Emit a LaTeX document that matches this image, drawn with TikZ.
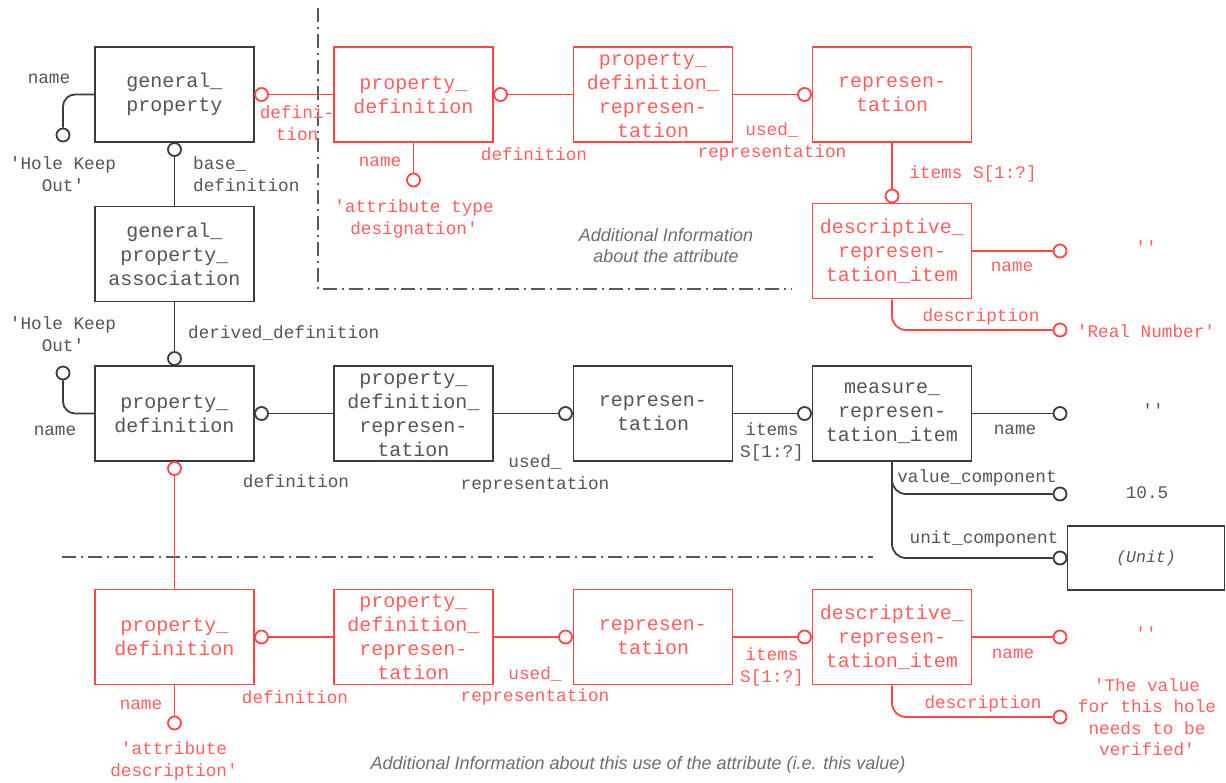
\documentclass[tikz,border=0pt]{standalone}
\usepackage{fontspec}
\newfontfamily\diagmono{Liberation Mono}
\newfontfamily\diagsans{Liberation Sans}

\definecolor{linegray}{RGB}{60,60,60}
\definecolor{textgray}{RGB}{85,85,85}
\definecolor{diagred}{RGB}{255,70,70}
\definecolor{redtext}{RGB}{255,95,95}
\definecolor{dashgray}{RGB}{90,90,90}
\definecolor{notegray}{RGB}{110,110,110}

\newcommand{\boxfont}{\diagmono\fontsize{20}{24}\selectfont}
\newcommand{\lblfont}{\diagmono\fontsize{17.7}{21.5}\selectfont}
\newcommand{\notefont}{\diagsans\itshape\fontsize{18}{21}\selectfont}
\newcommand{\sq}{\textquotesingle}

\tikzset{
  entity/.style={draw=linegray, line width=1.8pt, minimum width=159pt, minimum height=95pt,
    inner sep=0pt, align=center, text=textgray, font=\boxfont},
  entityred/.style={entity, draw=diagred, text=redtext},
  unitbox/.style={draw=linegray, line width=1.8pt, minimum width=157pt, minimum height=64pt,
    inner sep=0pt, text=textgray, font=\diagmono\itshape\fontsize{16.5}{20}\selectfont},
  ball/.style={circle, draw=linegray, fill=white, line width=1.8pt, minimum size=13pt, inner sep=0pt},
  ballred/.style={ball, draw=diagred},
  link/.style={draw=linegray, line width=1.8pt},
  linkred/.style={link, draw=diagred},
  lbl/.style={text=textgray, font=\lblfont, align=center, inner sep=0pt},
  lblred/.style={lbl, text=redtext},
  divider/.style={draw=dashgray, line width=1.3pt, dash pattern=on 14pt off 5pt on 2pt off 5pt},
  note/.style={text=notegray, font=\notefont, align=center, inner sep=0pt}
}

\begin{document}
\begin{tikzpicture}[x=1pt,y=-1pt]
\useasboundingbox (0,0) rectangle (1226,782);

% Divider lines
\draw[divider] (318,8) -- (318,289) -- (792,289);
\draw[divider] (62,557) -- (873,557);

% Notes
\node[note] (noteT) at (666,246) {Additional Information\\about the attribute};
\node[note] (noteB) at (638,765) {Additional Information about this use of the attribute (i.e. this value)};

% Top row
\node[entity] (gp) at (174.5,94.5) {general\_\\property};
\node[entity] (gpa) at (174.5,254) {general\_\\property\_\\association};
\node[entityred] (pdT) at (413.5,94.5) {property\_\\definition};
\node[entityred] (pdrT) at (653,94.5) {property\_\\definition\_\\represen-\\tation};
\node[entityred] (repT) at (892,94.5) {represen-\\tation};
\node[entityred] (driT) at (892,251) {descriptive\_\\represen-\\tation\_item};

% Middle row
\node[entity] (pdM) at (174.5,413.5) {property\_\\definition};
\node[entity] (pdrM) at (413.5,413.5) {property\_\\definition\_\\represen-\\tation};
\node[entity] (repM) at (653,413.5) {represen-\\tation};
\node[entity] (mri) at (892,413.5) {measure\_\\represen-\\tation\_item};
\node[unitbox] (unit) at (1146,558) {(Unit)};

% Bottom row
\node[entityred] (pdB) at (174.5,637) {property\_\\definition};
\node[entityred] (pdrB) at (413.5,637) {property\_\\definition\_\\represen-\\tation};
\node[entityred] (repB) at (653,637) {represen-\\tation};
\node[entityred] (driB) at (892,637) {descriptive\_\\represen-\\tation\_item};

% Circles
\node[ballred] (cgpR) at (261.5,94.5) {};
\node[ball] (cgpN) at (63,135) {};
\node[ball] (cgpB) at (174.5,149.5) {};
\node[ballred] (cpdTN) at (413.5,180) {};
\node[ballred] (cpdT) at (500.5,94.5) {};
\node[ballred] (crepT) at (804.5,94.5) {};
\node[ballred] (cdriT) at (892,196) {};
\node[ballred] (cdriTN) at (1060,251) {};
\node[ballred] (cdriTD) at (1060,330) {};
\node[ball] (cpdM) at (174.5,358.5) {};
\node[ball] (cpdMN) at (63,373) {};
\node[ball] (cpdMR) at (261.5,413.5) {};
\node[ball] (crepM) at (565.5,413.5) {};
\node[ball] (cmri) at (804.5,413.5) {};
\node[ball] (cmriN) at (1060,413.5) {};
\node[ball] (cval) at (1060,494) {};
\node[ball] (cunit) at (1060,558) {};
\node[ballred] (cpdMB) at (174.5,468.5) {};
\node[ballred] (cpdBR) at (261.5,637) {};
\node[ballred] (cpdBN) at (174.5,723) {};
\node[ballred] (crepB) at (565.5,637) {};
\node[ballred] (cdriB) at (804.5,637) {};
\node[ballred] (cdriBN) at (1060,637) {};
\node[ballred] (cdriBD) at (1060,717) {};

% Top connectors
\draw[linkred] (cgpR) -- (pdT.west);
\draw[link, rounded corners=12pt] (gp.west) -| (cgpN.north);
\draw[link] (cgpB) -- (gpa.north);
\draw[linkred] (pdT.south) -- (cpdTN);
\draw[linkred] (cpdT) -- (pdrT.west);
\draw[linkred] (pdrT.east) -- (crepT);
\draw[linkred] (repT.south) -- (cdriT);
\draw[linkred] (driT.east) -- (cdriTN);
\draw[linkred, rounded corners=14pt] (driT.south) |- (cdriTD.west);

% Middle connectors
\draw[link] (gpa.south) -- (cpdM);
\draw[link, rounded corners=12pt] (pdM.west) -| (cpdMN.south);
\draw[link] (cpdMR) -- (pdrM.west);
\draw[link] (pdrM.east) -- (crepM);
\draw[link] (repM.east) -- (cmri);
\draw[link] (mri.east) -- (cmriN);
\draw[link, rounded corners=14pt] (mri.south) |- (cval.west);
\draw[link, rounded corners=14pt] (mri.south) |- (cunit.west);
\draw[linkred] (cpdMB) -- (pdB.north);

% Bottom connectors
\draw[linkred] (cpdBR) -- (pdrB.west);
\draw[linkred] (pdB.south) -- (cpdBN);
\draw[linkred] (pdrB.east) -- (crepB);
\draw[linkred] (repB.east) -- (cdriB);
\draw[linkred] (driB.east) -- (cdriBN);
\draw[linkred, rounded corners=14pt] (driB.south) |- (cdriBD.west);

% Top labels
\node[lbl] (lgpN) at (49,79) {name};
\node[lbl] (lgpV) at (63,174) {\sq Hole Keep\\Out\sq};
\node[lbl, anchor=west, align=left] (lgpB) at (193,174) {base\_\\definition};
\node[lblred] (lgpR) at (297,123) {defini-\\tion};
\node[lblred] (lpdTN) at (380,162) {name};
\node[lblred] (lpdTV) at (414,219) {\sq attribute type\\designation\sq};
\node[lblred] (lpdT) at (534,154) {definition};
\node[lblred] (lpdrT) at (772,142) {used\_\\representation};
\node[lblred] (lrepT) at (973,174) {items S[1:?]};
\node[lblred] (ldriTN) at (1012,267) {name};
\node[lblred] (ldriTV) at (1146,247) {\sq\sq};
\node[lblred] (ldriTD) at (981,317) {description};
\node[lblred] (ldriTW) at (1146,331) {\sq Real Number\sq};

% Middle labels
\node[lbl, anchor=west] (lgpa) at (188,333) {derived\_definition};
\node[lbl] (lpdMV) at (63,334) {\sq Hole Keep\\Out\sq};
\node[lbl] (lpdMN) at (55,431) {name};
\node[lbl] (lpdM) at (296,481) {definition};
\node[lbl] (lpdrM) at (535,474) {used\_\\representation};
\node[lbl] (lrepM) at (772,442) {items\\S[1:?]};
\node[lbl] (lmriN) at (1015,430) {name};
\node[lbl] (lmriV) at (1153,410) {\sq\sq};
\node[lbl] (lval) at (977,478) {value\_component};
\node[lbl] (lvalV) at (1147,493) {10.5};
\node[lbl] (lunit) at (984,539) {unit\_component};

% Bottom labels
\node[lblred] (lpdBN) at (141,705) {name};
\node[lblred] (lpdBV) at (174,761) {\sq attribute\\description\sq};
\node[lblred] (lpdB) at (295,697) {definition};
\node[lblred] (lpdrB) at (535,686) {used\_\\representation};
\node[lblred] (lrepB) at (772,667) {items\\S[1:?]};
\node[lblred] (ldriBN) at (1013,654) {name};
\node[lblred] (ldriBV) at (1146,633) {\sq\sq};
\node[lblred] (ldriBD) at (983,704) {description};
\node[lblred] (ldriBW) at (1147,717) {\sq The value\\for this hole\\needs to be\\verified\sq};
\end{tikzpicture}
\end{document}
